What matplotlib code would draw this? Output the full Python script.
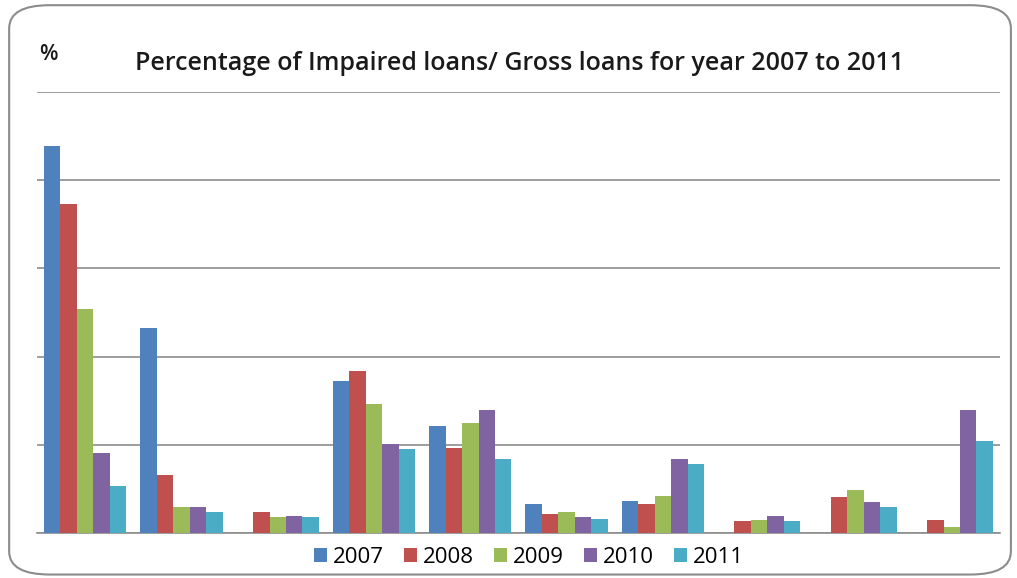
import matplotlib
matplotlib.use("Agg")

import matplotlib.pyplot as plt
import numpy as np
from matplotlib.patches import FancyBboxPatch

YEARS = ["2007", "2008", "2009", "2010", "2011"]
COLORS = ["#4F81BD", "#C0504D", "#9BBB59", "#8064A2", "#4BACC6"]
BANKS = list(range(10))

# impaired loans as % of gross loans, one list per year (10 banks each)
RATIO_2007 = [8.77, 4.64, 0.00, 3.44, 2.42, 0.66, 0.72, 0.00, 0.00, 0.00]
RATIO_2008 = [7.45, 1.31, 0.48, 3.67, 1.93, 0.43, 0.66, 0.27, 0.82, 0.29]
RATIO_2009 = [5.07, 0.59, 0.36, 2.92, 2.49, 0.48, 0.84, 0.29, 0.97, 0.14]
RATIO_2010 = [1.81, 0.59, 0.39, 2.02, 2.79, 0.36, 1.68, 0.39, 0.70, 2.79]
RATIO_2011 = [1.06, 0.48, 0.36, 1.90, 1.68, 0.32, 1.56, 0.27, 0.59, 2.08]

SERIES = [RATIO_2007, RATIO_2008, RATIO_2009, RATIO_2010, RATIO_2011]
GRID = [0, 2, 4, 6, 8, 10]


def main():
    plt.rcParams["font.family"] = ["Open Sans", "DejaVu Sans"]
    fig = plt.figure(figsize=(10.17, 5.78), dpi=100)

    # rounded chart-area border behind everything
    frame = FancyBboxPatch((0.009, 0.006), 0.985, 0.985,
                           boxstyle="round,pad=0,rounding_size=0.04",
                           transform=fig.transFigure, facecolor="white",
                           edgecolor="#8c8c8c", linewidth=1.5, zorder=-5)
    fig.patches.append(frame)

    ax = fig.add_axes([0.0364, 0.078, 0.9468, 0.763])
    ax.set_facecolor("none")

    width = 0.171
    x = np.arange(len(BANKS))
    for i, (label, values, color) in enumerate(zip(YEARS, SERIES, COLORS)):
        ax.bar(x + (i - 2) * width, values, width, color=color, label=label, zorder=3)

    ax.set_xlim(-0.5, len(BANKS) - 0.5)
    ax.set_ylim(GRID[0], GRID[-1])
    ax.set_yticks(GRID)
    ax.yaxis.grid(True, color="#8c8c8c", linewidth=1.2)
    ax.set_xticks([])
    ax.tick_params(axis="y", length=0, labelleft=False)
    for side in ["left", "right", "top"]:
        ax.spines[side].set_visible(False)
    ax.spines["bottom"].set_color("#8c8c8c")
    ax.spines["bottom"].set_linewidth(1.2)

    fig.text(0.511, 0.891, "Percentage of Impaired loans/ Gross loans for year 2007 to 2011",
             ha="center", va="center", fontsize=18, fontweight="semibold", color="#1a1a1a")
    fig.text(0.038, 0.905, "%", ha="left", va="center", fontsize=15.5,
             fontweight="semibold", color="#1a1a1a")

    fig.legend(loc="center", bbox_to_anchor=(0.52, 0.036), ncol=5, frameon=False,
               fontsize=16, handlelength=0.6, handleheight=0.6, handletextpad=0.25,
               columnspacing=0.9)

    fig.savefig("out.png", dpi=100)
    plt.close(fig)


if __name__ == "__main__":
    main()
